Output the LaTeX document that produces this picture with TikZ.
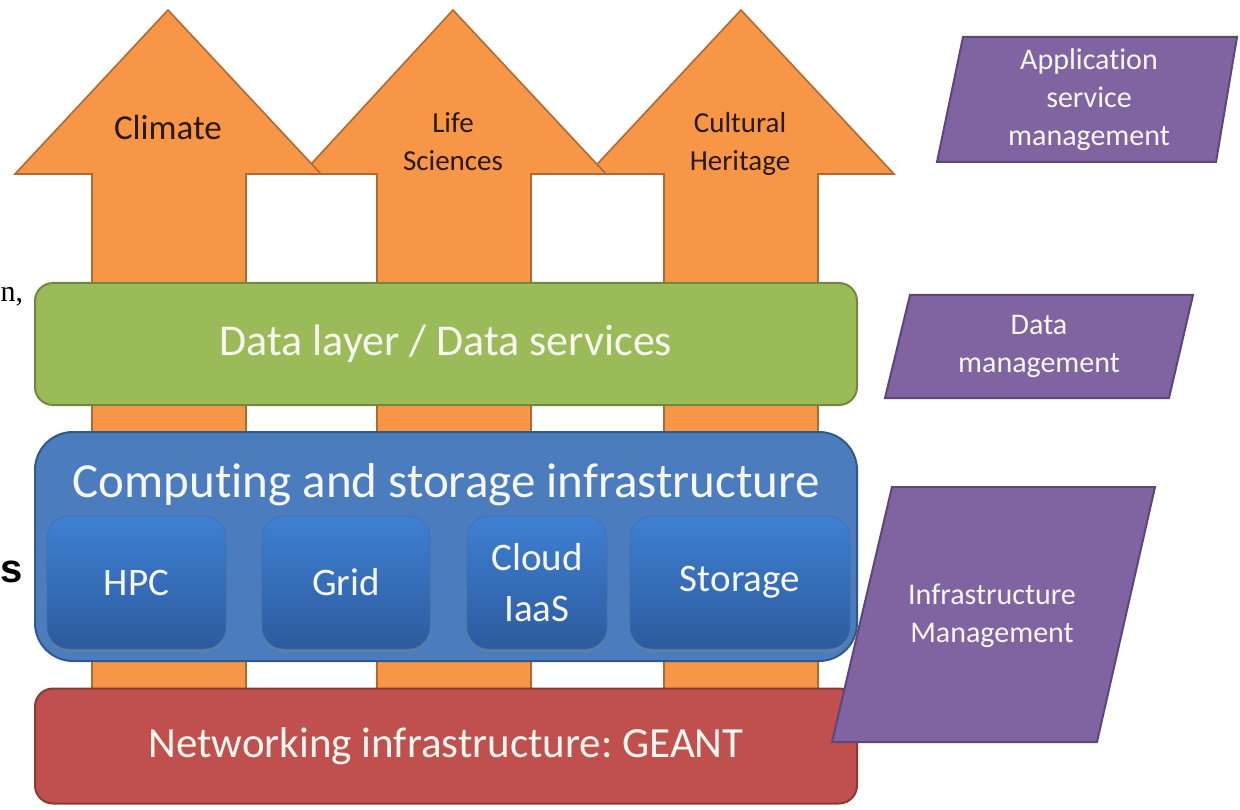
\documentclass[tikz,border=0pt]{standalone}
\usepackage{fontspec}
\setmainfont{Carlito}[Ligatures=CommonOff]
\newfontfamily\artserif{Liberation Serif}
\newfontfamily\artsans{Liberation Sans}
\usetikzlibrary{shadows}
\frenchspacing
\definecolor{orF}{HTML}{F79646}
\definecolor{orD}{HTML}{B0692F}
\definecolor{grF}{HTML}{9BBB59}
\definecolor{grD}{HTML}{71893F}
\definecolor{blF}{HTML}{4B7DBE}
\definecolor{blD}{HTML}{30588A}
\definecolor{subT}{HTML}{3F80D3}
\definecolor{subB}{HTML}{2C5B9D}
\definecolor{rdF}{HTML}{C0504D}
\definecolor{rdD}{HTML}{8C3836}
\definecolor{puF}{HTML}{8064A2}
\definecolor{puD}{HTML}{5C4776}
\definecolor{darktxt}{HTML}{2A180C}
\definecolor{lighttxt}{HTML}{F7F7F0}
\begin{document}
\begin{tikzpicture}[x=1pt,y=-1pt,
  arrowshape/.style={fill=orF, draw=orD, line width=1.6pt, line join=miter},
  arrowlabel/.style={text=darktxt, align=center, inner sep=0pt},
  layerbox/.style={line width=2pt, text=lighttxt, inner sep=0pt, minimum width=822pt},
  subbox/.style={rounded corners=22pt, top color=subT, bottom color=subB, draw=blF!80!black!60!blF, line width=0.6pt,
     drop shadow={opacity=0.35, shadow xshift=0pt, shadow yshift=-3pt},
     minimum height=133pt, text=lighttxt, align=center, inner sep=0pt,
     font=\fontsize{39}{51}\selectfont},
  mgmt/.style={fill=puF, draw=puD, line width=2pt, line join=miter},
  mgmtlabel/.style={text=lighttxt, align=center, inner sep=0pt, font=\fontsize{30}{38}\selectfont}]
\clip (0,0) rectangle (1240,810);
\fill[white] (0,0) rectangle (1240,810);

% arrows (later ones underneath)
\draw[arrowshape] (741,10) -- (894,174) -- (818,174) -- (818,700) -- (664,700) -- (664,174) -- (588,174) -- cycle;
\draw[arrowshape] (453,10) -- (606,174) -- (531,174) -- (531,700) -- (377,700) -- (377,174) -- (302,174) -- cycle;
\draw[arrowshape] (168,10) -- (321,174) -- (246,174) -- (246,700) -- (92,700) -- (92,174) -- (15,174) -- cycle;

\node[arrowlabel, font=\fontsize{35}{40}\selectfont] (climate) at (168,127) {Climate};
\node[arrowlabel, font=\fontsize{29}{38}\selectfont] (life) at (453,142) {Life\\Sciences};
\node[arrowlabel, font=\fontsize{29}{38}\selectfont] (culture) at (740,144) {Cultural\\Heritage};

% layers
\node[layerbox, rounded corners=18pt, fill=grF, draw=grD, minimum height=122pt,
      font=\fontsize{44}{50}\selectfont] (data) at (446,344) {Data layer / Data services};

\node[layerbox, rounded corners=38pt, fill=blF, draw=blD, minimum height=229pt] (compute) at (446,546.5) {};
\node[text=lighttxt, inner sep=0pt, font=\fontsize{49}{55}\selectfont] (computetitle) at (446,485) {Computing and storage infrastructure};

\node[subbox, minimum width=179pt] (hpc) at (136.5,582.5) {HPC};
\node[subbox, minimum width=168pt] (grid) at (346,582.5) {Grid};
\node[subbox, minimum width=140pt] (cloud) at (537,582.5) {Cloud\\IaaS};
\node[subbox, minimum width=220pt] (storage) at (740,582.5) {Storage};

\node[layerbox, rounded corners=18pt, fill=rdF, draw=rdD, minimum height=115pt,
      font=\fontsize{43}{50}\selectfont] (network) at (446,746) {Networking infrastructure: GEANT};

% management parallelograms
\draw[mgmt] (963,37) -- (1237,37) -- (1216,162) -- (937,162) -- cycle;
\node[mgmtlabel] (appmgmt) at (1089,100) {Application\\service\\management};

\draw[mgmt] (910,295) -- (1193,295) -- (1169,398) -- (885,398) -- cycle;
\node[mgmtlabel] (datamgmt) at (1039,346) {Data\\management};

\draw[mgmt] (892,487) -- (1155,487) -- (1097,742) -- (832,742) -- cycle;
\node[mgmtlabel] (inframgmt) at (992,616) {Infrastructure\\Management};

% fragments of text at the left edge
\node[anchor=base west, inner sep=0pt, font=\artserif\fontsize{30}{30}\selectfont] (fragn) at (0.5,302) {n,};
\node[anchor=base west, inner sep=0pt, font=\artsans\bfseries\fontsize{40}{40}\selectfont] (frags) at (0.5,582) {s};
\end{tikzpicture}
\end{document}
